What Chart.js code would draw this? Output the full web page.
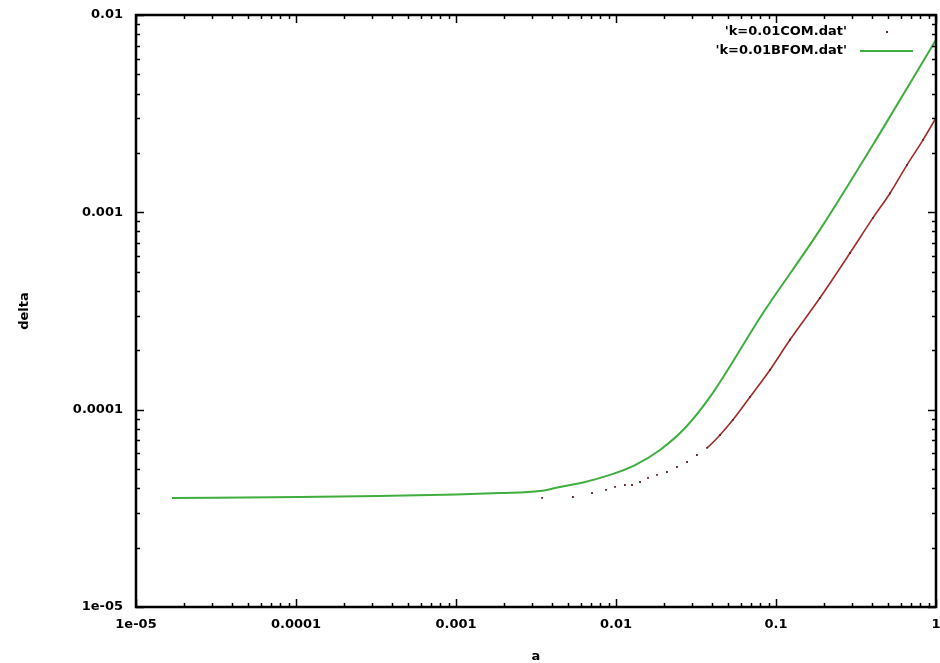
<!DOCTYPE html>
<html>
<head>
<meta charset="utf-8">
<script src="https://cdn.jsdelivr.net/npm/chart.js@4"></script>
<style>
  html, body { margin: 0; padding: 0; background: #fff; }
  #wrap { width: 940px; height: 663px; position: relative; }
</style>
</head>
<body>
<div id="wrap"><canvas id="grafico"></canvas></div>
<script>
// tick labels (gnuplot style)
const xTicks = [1e-5, 1e-4, 1e-3, 1e-2, 1e-1, 1];
const xTickLabels = ['1e-05', '0.0001', '0.001', '0.01', '0.1', '1'];
const yTicks = [1e-5, 1e-4, 1e-3, 1e-2];
const yTickLabels = ['1e-05', '0.0001', '0.001', '0.01'];

const seriesNames = ["'k=0.01COM.dat'", "'k=0.01BFOM.dat'"];

// k=0.01COM.dat  (dots)
const comA = [0.00345, 0.00538, 0.00708, 0.00866, 0.00986, 0.01137, 0.01259, 0.01413, 0.01585,
  0.01803, 0.02084, 0.02404, 0.0278, 0.03206, 0.03707, 0.04467, 0.0538, 0.0688, 0.0917,
  0.1223, 0.188, 0.29, 0.4036, 0.516, 0.659, 0.83, 1.0];
const comDelta = [3.57e-5, 3.61e-5, 3.78e-5, 3.92e-5, 4.06e-5, 4.15e-5, 4.15e-5, 4.30e-5, 4.51e-5,
  4.67e-5, 4.83e-5, 5.12e-5, 5.43e-5, 5.89e-5, 6.40e-5, 7.44e-5, 8.88e-5, 1.16e-4, 1.59e-4,
  2.26e-4, 3.68e-4, 6.22e-4, 9.37e-4, 1.25e-3, 1.74e-3, 2.33e-3, 3.01e-3];

// k=0.01BFOM.dat  (line)
const bfomA = [1.68e-5, 1.06e-4, 3.26e-4, 1e-3, 1.88e-3, 3.35e-3, 4.47e-3, 6.40e-3, 9.17e-3,
  0.01315, 0.01884, 0.027, 0.0387, 0.083, 0.188, 0.447, 1.0];
const bfomDelta = [3.57e-5, 3.61e-5, 3.65e-5, 3.72e-5, 3.78e-5, 3.87e-5, 4.06e-5, 4.30e-5, 4.67e-5,
  5.24e-5, 6.25e-5, 8.07e-5, 1.16e-4, 3.09e-4, 8.15e-4, 2.52e-3, 7.48e-3];

const redColor = '#a02c28';
const dotColor = '#5e2a2a';
const greenColor = '#3fae3f';
const fontFam = '"DejaVu Sans", sans-serif';

const toXY = (xs, ys) => xs.map((x, i) => ({ x: x, y: ys[i] }));

// frame, inward ticks on all four sides, and the key
const gnuplotFrame = {
  id: 'gnuplotFrame',
  afterDraw(chart) {
    const { ctx, chartArea: a, scales } = chart;
    ctx.save();
    ctx.strokeStyle = '#000';
    ctx.lineWidth = 1.5;
    ctx.beginPath();
    const sx = scales.x, sy = scales.y;
    for (let n = -5; n <= 0; n++) {
      for (let k = 1; k <= 9; k++) {
        const v = k * Math.pow(10, n);
        if (v > 1.0000001) break;
        const px = Math.round(sx.getPixelForValue(v)) + 0.5;
        const len = k === 1 ? 8 : 4;
        ctx.moveTo(px, a.bottom); ctx.lineTo(px, a.bottom - len);
        ctx.moveTo(px, a.top); ctx.lineTo(px, a.top + len);
      }
    }
    for (let n = -5; n <= -2; n++) {
      for (let k = 1; k <= 9; k++) {
        const v = k * Math.pow(10, n);
        if (v > 0.0100001) break;
        const py = Math.round(sy.getPixelForValue(v)) + 0.5;
        const len = k === 1 ? 8 : 4;
        ctx.moveTo(a.left, py); ctx.lineTo(a.left + len, py);
        ctx.moveTo(a.right, py); ctx.lineTo(a.right - len, py);
      }
    }
    ctx.stroke();
    ctx.lineWidth = 2.5;
    ctx.strokeRect(a.left, a.top, a.right - a.left, a.bottom - a.top);

    // key
    ctx.font = 'bold 13px ' + fontFam;
    ctx.fillStyle = '#000';
    ctx.textAlign = 'right';
    ctx.textBaseline = 'middle';
    ctx.fillText(seriesNames[0], 847, 32);
    ctx.fillText(seriesNames[1], 847, 51);
    ctx.fillStyle = dotColor;
    ctx.fillRect(886, 31, 2, 2);
    ctx.strokeStyle = greenColor;
    ctx.lineWidth = 2;
    ctx.beginPath();
    ctx.moveTo(860, 51); ctx.lineTo(913, 51);
    ctx.stroke();
    ctx.restore();
  }
};

const ctx = document.getElementById('grafico').getContext('2d');
new Chart(ctx, {
  type: 'scatter',
  data: {
    datasets: [{
      label: seriesNames[1],
      data: toXY(bfomA, bfomDelta),
      showLine: true,
      borderColor: greenColor,
      borderWidth: 2,
      pointRadius: 0,
      cubicInterpolationMode: 'monotone'
    }, {
      label: seriesNames[0],
      data: toXY(comA, comDelta),
      showLine: true,
      borderColor: redColor,
      borderWidth: 1.6,
      segment: {
        borderColor: c => c.p0.parsed.x < 0.036 ? 'rgba(0,0,0,0)' : redColor
      },
      pointRadius: 1.3,
      pointStyle: 'rect',
      pointBorderWidth: 0,
      pointBackgroundColor: dotColor,
      cubicInterpolationMode: 'monotone'
    }]
  },
  options: {
    responsive: true,
    maintainAspectRatio: false,
    animation: false,
    layout: { padding: { top: 15, right: 4, left: 0, bottom: 0 } },
    plugins: {
      legend: { display: false },
      tooltip: { enabled: false }
    },
    scales: {
      x: {
        type: 'logarithmic',
        min: 1e-5,
        max: 1,
        afterBuildTicks: s => { s.ticks = xTicks.map(v => ({ value: v })); },
        afterFit: s => { s.height = 56; s.paddingLeft = 0; s.paddingRight = 0; },
        ticks: {
          autoSkip: false,
          maxRotation: 0,
          padding: 10,
          color: '#000',
          font: { family: fontFam, size: 13, weight: 'bold' },
          callback: (v, i) => xTickLabels[i]
        },
        grid: { display: false, drawTicks: false },
        border: { display: false },
        title: {
          display: true,
          text: 'a',
          color: '#000',
          padding: { top: 0, bottom: 0 },
          font: { family: fontFam, size: 13, weight: 'bold', lineHeight: 1 }
        }
      },
      y: {
        type: 'logarithmic',
        min: 1e-5,
        max: 0.01,
        afterBuildTicks: s => { s.ticks = yTicks.map(v => ({ value: v })); },
        afterFit: s => { s.width = 136; s.paddingTop = 0; s.paddingBottom = 0; },
        ticks: {
          autoSkip: false,
          padding: 13,
          color: '#000',
          font: { family: fontFam, size: 13, weight: 'bold' },
          callback: (v, i) => yTickLabels[i]
        },
        grid: { display: false, drawTicks: false },
        border: { display: false },
        title: {
          display: true,
          text: 'delta',
          color: '#000',
          padding: { top: 18, bottom: 0 },
          font: { family: fontFam, size: 13, weight: 'bold', lineHeight: 1 }
        }
      }
    }
  },
  plugins: [gnuplotFrame]
});
</script>
</body>
</html>
